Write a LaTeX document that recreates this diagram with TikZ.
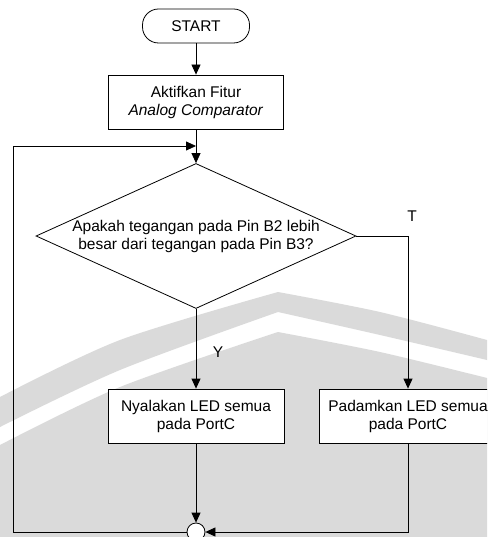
\documentclass[tikz,border=0pt]{standalone}
\usepackage{fontspec}
\setmainfont{Liberation Sans}
\usetikzlibrary{shapes.geometric,arrows.meta}
\definecolor{wmgray}{RGB}{218,218,218}
\begin{document}
\begin{tikzpicture}[x=1pt,y=-1pt,
  font=\fontsize{15.5}{18}\selectfont,
  line width=0.8pt,
  box/.style={draw, fill=white, rectangle, minimum height=54pt, inner sep=0pt, align=center},
  term/.style={draw, fill=white, rectangle, rounded corners=16pt, minimum width=107pt, minimum height=34pt, inner sep=0pt},
  dec/.style={draw, fill=white, diamond, minimum width=320pt, minimum height=145pt, inner sep=0pt},
  conn/.style={draw, fill=white, circle, minimum size=18pt, inner sep=0pt},
  arr/.style={-{Triangle[length=10pt,width=9pt]}},
  lbl/.style={inner sep=0pt}]
\useasboundingbox (0,0) rectangle (487,537);
\clip (0,0) rectangle (487,537);

% faint background band of the page
\fill[wmgray] plot[smooth] coordinates {(0,397) (120,340) (278,292)}
  -- plot[smooth] coordinates {(278,292) (380,312) (487,340)}
  -- (487,360)
  -- plot[smooth] coordinates {(487,360) (380,335) (278,312)}
  -- plot[smooth] coordinates {(278,312) (120,370) (0,427)} -- cycle;
\fill[wmgray] plot[smooth] coordinates {(0,445) (120,387) (278,332)}
  -- plot[smooth] coordinates {(278,332) (380,352) (487,378)}
  -- (487,537) -- (0,537) -- cycle;

% flowchart nodes
\node[term] (start) at (196,26) {START};
\node[box, minimum width=175pt] (act) at (196,102) {Aktifkan Fitur\\\textit{Analog Comparator}};
\node[dec] (q) at (196,236) {};
\node[align=center, inner sep=0pt] (qtext) at (q.center) {Apakah tegangan pada Pin B2 lebih\\besar dari tegangan pada Pin B3?};
\node[box, minimum width=176pt] (on) at (196,416) {Nyalakan LED semua\\pada PortC};
\node[box, minimum width=178pt] (off) at (408,416) {Padamkan LED semua\\pada PortC};
\node[conn] (join) at (196,532) {};

\node[lbl] (tlab) at (412,216) {T};
\node[lbl] (ylab) at (218,352) {Y};

\coordinate (lb) at (13.5,532);
\coordinate (lt) at (13.5,146);

% connectors
\draw[arr] (start) -- (act);
\draw[arr] (act) -- (q);
\draw[arr] (q.east) -| (off.north);
\draw[arr] (q.south) -- (on.north);
\draw[arr] (on.south) -- (join.north);
\draw[arr] (off.south) |- (join.east);
\draw[arr] (join.west) -- (lb) -- (lt) -- (lt -| act.south);
\end{tikzpicture}
\end{document}
